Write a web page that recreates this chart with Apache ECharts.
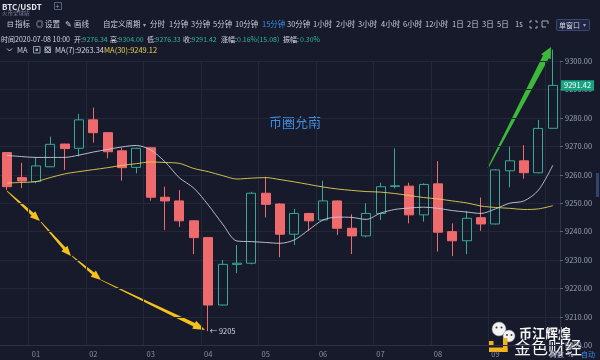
<!DOCTYPE html>
<html>
<head>
<meta charset="utf-8">
<script src="https://cdn.jsdelivr.net/npm/echarts@6/dist/echarts.min.js"></script>
<style>
html,body{margin:0;padding:0;background:#161a2b;}
#c{width:600px;height:360px;}
</style>
</head>
<body>
<div id="c"></div>
<script>
// ---- data ----
const times = ['00:30','00:45','01:00','01:15','01:30','01:45','02:00','02:15','02:30','02:45','03:00','03:15','03:30','03:45','04:00','04:15','04:30','04:45','05:00','05:15','05:30','05:45','06:00','06:15','06:30','06:45','07:00','07:15','07:30','07:45','08:00','08:15','08:30','08:45','09:00','09:15','09:30','09:45','10:00'];
const opens  = [9267.8,9259.0,9257.6,9262.8,9270.8,9269.3,9279.3,9274.8,9268.4,9262.6,9269.5,9252.1,9250.8,9243.8,9237.9,9214.2,9228.5,9228.9,9253.5,9249.7,9239.1,9246.4,9244.1,9250.8,9241.2,9238.5,9246.4,9255.9,9256.0,9245.9,9256.8,9240.0,9236.8,9244.9,9242.7,9261.4,9264.9,9260.7,9276.34];
const highs  = [9268.0,9264.2,9266.1,9273.4,9270.9,9281.4,9283.6,9275.0,9269.4,9269.5,9269.7,9255.8,9254.6,9244.0,9238.0,9230.0,9235.3,9254.0,9259.3,9250.0,9248.0,9246.6,9257.9,9251.0,9246.1,9250.0,9257.2,9269.3,9257.2,9257.0,9264.8,9242.9,9247.3,9252.0,9262.0,9269.9,9270.4,9279.3,9304.0];
const lows   = [9254.6,9255.3,9257.0,9262.7,9261.7,9266.4,9271.3,9265.8,9257.9,9260.5,9250.9,9240.6,9241.7,9232.1,9205.0,9214.0,9225.4,9228.5,9245.0,9231.0,9235.3,9240.3,9244.0,9238.8,9232.1,9238.0,9244.1,9255.2,9242.9,9243.5,9233.0,9231.4,9232.1,9240.3,9242.5,9255.6,9258.6,9260.5,9276.33];
const closes = [9255.8,9257.8,9263.1,9270.7,9269.2,9279.3,9274.8,9268.1,9262.5,9269.3,9252.1,9250.8,9243.8,9237.9,9214.2,9228.5,9228.9,9253.5,9249.6,9239.1,9246.4,9243.8,9250.8,9241.2,9238.5,9246.4,9255.8,9256.1,9245.9,9256.6,9239.8,9236.8,9244.7,9242.7,9261.7,9264.9,9260.7,9276.3,9291.42];
const ma7  = [9266.8,9266.4,9266.1,9266.1,9266.1,9266.9,9268.0,9268.9,9269.8,9270.3,9268.7,9264.5,9258.9,9255.3,9249.4,9242.7,9236.7,9236.5,9236.2,9235.9,9237.1,9240.6,9244.1,9245.1,9245.0,9244.3,9246.5,9247.8,9248.3,9248.6,9248.2,9247.4,9246.9,9246.4,9248.0,9250.0,9250.8,9254.6,9263.34];
const ma30 = [9257.1,9257.3,9257.6,9259.0,9260.3,9261.1,9261.8,9262.5,9263.3,9263.9,9264.5,9264.3,9264.0,9262.2,9261.1,9259.7,9258.5,9258.8,9259.0,9258.3,9257.5,9256.6,9255.7,9255.0,9254.5,9254.1,9253.9,9253.4,9252.7,9252.0,9251.5,9250.8,9250.1,9249.0,9248.5,9248.2,9247.8,9248.0,9249.12];
const yTicks = {min: 9200, max: 9300, step: 10};

// ---- build ----
const kData = times.map((t, i) => [opens[i], closes[i], lows[i], highs[i]]);
const hiIdx = highs.indexOf(Math.max(...highs));
const loIdx = lows.indexOf(Math.min(...lows));
const lastClose = closes[closes.length - 1];

const CJK = '"Noto Sans CJK SC", "Noto Sans", sans-serif';
const TXT = '#c9cdd9';
const GRN = '#2fb597';
const BLUE = '#3d8ee8';

function T(x, y, text, fill, size, extra) {
  return {
    type: 'text', x: x, y: y, silent: true,
    style: Object.assign({text: text, fill: fill || TXT, fontSize: size || 7.5, fontFamily: CJK, verticalAlign: 'middle', align: 'left'}, extra || {})
  };
}
function arrow(x1, y1, x2, y2, w1, w2, hl, hw, fill) {
  const dx = x2 - x1, dy = y2 - y1, L = Math.hypot(dx, dy);
  const ux = dx / L, uy = dy / L, px = -uy, py = ux;
  const bx = x2 - ux * hl, by = y2 - uy * hl;
  return {
    type: 'polygon', silent: true,
    shape: {points: [
      [x1 + px * w1 / 2, y1 + py * w1 / 2],
      [bx + px * w2 / 2, by + py * w2 / 2],
      [bx + px * hw / 2, by + py * hw / 2],
      [x2, y2],
      [bx - px * hw / 2, by - py * hw / 2],
      [bx - px * w2 / 2, by - py * w2 / 2],
      [x1 - px * w1 / 2, y1 - py * w1 / 2]
    ]},
    style: {fill: fill}
  };
}

const graphics = [
  // row 1
  T(2, 6.5, 'BTC/USDT', '#e6e8f0', 8, {fontWeight: 'bold'}),
  T(2, 13, '火币全球站', '#7d849a', 5.5),
  {type: 'rect', silent: true, shape: {x: 54.5, y: 2.5, width: 7, height: 7}, style: {fill: 'none', stroke: '#59607a', lineWidth: 1}},
  T(55.6, 6, '+', '#9aa0b4', 7),
  // row 2
  T(7, 24.5, '⊟', TXT, 7.5),
  T(15, 24.5, '指标'),
  T(36, 24.5, '◎', TXT, 7.5),
  T(45, 24.5, '设置'),
  T(65, 24.5, '✎', TXT, 7.5),
  T(74, 24.5, '画线'),
  T(103, 24.5, '自定义周期'),
  T(143, 24.5, '▾', '#9aa0b4', 6),
  T(150, 24.5, '分时'),
  T(169, 24.5, '1分钟'),
  T(191, 24.5, '3分钟'),
  T(213, 24.5, '5分钟'),
  T(235, 24.5, '10分钟'),
  T(262, 24.5, '15分钟', BLUE),
  T(287, 24.5, '30分钟'),
  T(313, 24.5, '1小时'),
  T(336, 24.5, '2小时'),
  T(358, 24.5, '3小时'),
  T(381, 24.5, '4小时'),
  T(403, 24.5, '6小时'),
  T(425, 24.5, '12小时'),
  T(452, 24.5, '1日'),
  T(467, 24.5, '2日'),
  T(482, 24.5, '3日'),
  T(497, 24.5, '5日'),
  T(515, 24.5, '1s'),
  {type: 'polyline', silent: true, shape: {points: [[530,23],[530,21],[532,21]]}, style: {stroke: TXT, lineWidth: 0.8, fill: 'none'}},
  {type: 'polyline', silent: true, shape: {points: [[535,21],[537,21],[537,23]]}, style: {stroke: TXT, lineWidth: 0.8, fill: 'none'}},
  {type: 'polyline', silent: true, shape: {points: [[530,26],[530,28],[532,28]]}, style: {stroke: TXT, lineWidth: 0.8, fill: 'none'}},
  {type: 'polyline', silent: true, shape: {points: [[535,28],[537,28],[537,26]]}, style: {stroke: TXT, lineWidth: 0.8, fill: 'none'}},
  {type: 'polyline', silent: true, shape: {points: [[546,27],[542,27],[542,21],[548,21],[548,24]]}, style: {stroke: TXT, lineWidth: 0.8, fill: 'none'}},
  {type: 'rect', silent: true, shape: {x: 556.5, y: 19.5, width: 33, height: 11, r: 1}, style: {fill: '#1f2642', stroke: '#3a4670', lineWidth: 1}},
  T(559, 25, '单窗口', '#d6d9e6', 7),
  T(583, 25, '▾', '#9aa0b4', 5.5),
  // row 3
  T(1, 39.5, '时间2020-07-08 10:00', '#d6d9e4', 7),
  T(74, 39.5, '开:', '#d6d9e4', 7), T(82.5, 39.5, '9276.34', GRN, 7),
  T(110, 39.5, '高:', '#d6d9e4', 7), T(118.5, 39.5, '9304.00', GRN, 7),
  T(147, 39.5, '低:', '#d6d9e4', 7), T(155.5, 39.5, '9276.33', GRN, 7),
  T(183, 39.5, '收:', '#d6d9e4', 7), T(191.5, 39.5, '9291.42', GRN, 7),
  T(221, 39.5, '涨幅:', '#d6d9e4', 7), T(237, 39.5, '0.16%(15.08)', GRN, 7),
  T(283, 39.5, '振幅:', '#d6d9e4', 7), T(300, 39.5, '0.30%', GRN, 7),
  // row 4 (MA legend)
  {type: 'polyline', silent: true, shape: {points: [[7,48.5],[9.5,51],[12,48.5]]}, style: {stroke: TXT, lineWidth: 0.9, fill: 'none'}},
  T(17, 50, 'MA', TXT),
  {type: 'rect', silent: true, shape: {x: 33.5, y: 46.5, width: 6.5, height: 6.5}, style: {fill: 'none', stroke: '#9aa0b4', lineWidth: 0.9}},
  {type: 'rect', silent: true, shape: {x: 35.5, y: 48.5, width: 2.5, height: 2.5}, style: {fill: '#9aa0b4'}},
  {type: 'rect', silent: true, shape: {x: 44.5, y: 46.5, width: 6.5, height: 6.5}, style: {fill: '#9aa0b4'}},
  {type: 'line', silent: true, shape: {x1: 45.5, y1: 47.5, x2: 50, y2: 52}, style: {stroke: '#161a2b', lineWidth: 1}},
  {type: 'line', silent: true, shape: {x1: 50, y1: 47.5, x2: 45.5, y2: 52}, style: {stroke: '#161a2b', lineWidth: 1}},
  T(55, 50, 'MA(7):' + ma7[ma7.length - 1].toFixed(2), '#d8dae8'),
  T(104, 50, 'MA(30):' + ma30[ma30.length - 1].toFixed(2), '#e8d44d'),
  // watermark text
  T(269, 122.5, '币圈允南', '#3f8de0', 13),
  // yellow arrows
  arrow(7, 191, 40, 221, 0.8, 3.2, 10, 8, '#f5c21b'),
  arrow(41, 222, 71, 256, 0.8, 3.2, 10, 8, '#f5c21b'),
  arrow(72, 256, 101, 280, 0.8, 3.2, 10, 8, '#f5c21b'),
  arrow(101, 280, 205, 330, 0.8, 3.8, 12, 9, '#f5c21b'),
  // green arrow
  arrow(488, 168, 551, 47, 1, 6.5, 11, 11, '#3cb83a'),
  // scrollbar
  {type: 'rect', silent: true, shape: {x: 596, y: 173, width: 3, height: 24}, style: {fill: '#34426e'}},
  // bottom-right logo watermark
  {type: 'circle', silent: true, shape: {cx: 499, cy: 329, r: 7}, style: {fill: '#f2f2f2', stroke: '#888', lineWidth: 0.5}},
  {type: 'circle', silent: true, shape: {cx: 509, cy: 336, r: 6}, style: {fill: '#f2f2f2', stroke: '#888', lineWidth: 0.5}},
  {type: 'circle', silent: true, shape: {cx: 496.5, cy: 327.5, r: 1}, style: {fill: '#333'}},
  {type: 'circle', silent: true, shape: {cx: 501.5, cy: 327.5, r: 1}, style: {fill: '#333'}},
  {type: 'circle', silent: true, shape: {cx: 507, cy: 335, r: 0.9}, style: {fill: '#333'}},
  {type: 'circle', silent: true, shape: {cx: 511.5, cy: 335, r: 0.9}, style: {fill: '#333'}},
  {type: 'rect', silent: true, shape: {x: 489, y: 341, width: 4.5, height: 4.5}, style: {fill: '#f2b418'}},
  {type: 'rect', silent: true, shape: {x: 503, y: 338, width: 4.5, height: 14}, style: {fill: '#f2b418'}},
  {type: 'rect', silent: true, shape: {x: 489, y: 347.5, width: 18.5, height: 4.5}, style: {fill: '#f2b418'}},
  T(519, 333.5, '币江辉煌', '#f4f4f4', 13, {fontWeight: 'bold'}),
  T(514, 347.5, '金色财经', '#f4f4f4', 17),
  T(550, 354, '对数', '#b8bccb', 7),
  T(567, 354, '%', '#b8bccb', 7),
  T(581, 354, '自动', BLUE, 7)
];

const option = {
  backgroundColor: '#161a2b',
  animation: false,
  grid: {left: -1.6, width: 561.6, top: 61, height: 284.4},
  xAxis: {
    type: 'category', data: times, boundaryGap: true,
    axisLine: {show: true, lineStyle: {color: '#2a3045'}},
    axisTick: {show: false},
    axisLabel: {
      color: '#8b90a3', fontSize: 7.5, fontFamily: CJK, margin: 5,
      interval: (i, v) => v.endsWith(':00'),
      formatter: v => v.slice(0, 2)
    },
    splitLine: {show: true, interval: (i, v) => v.endsWith(':00'), lineStyle: {color: '#232839', width: 1}}
  },
  yAxis: {
    type: 'value', position: 'right', scale: true,
    min: yTicks.min, max: yTicks.max, interval: yTicks.step,
    axisLine: {show: true, lineStyle: {color: '#2e3449'}},
    axisTick: {show: true, length: 3, lineStyle: {color: '#5d6378'}},
    axisLabel: {color: '#9aa0b2', fontSize: 7.5, fontFamily: CJK, margin: 5, formatter: v => v.toFixed(2)},
    splitLine: {show: true, lineStyle: {color: '#232839', width: 1}}
  },
  series: [
    {
      type: 'candlestick', data: kData, barWidth: 9.5, clip: false,
      itemStyle: {color: 'rgba(0,0,0,0)', color0: '#ef6a6d', borderColor: '#35a995', borderColor0: '#ef6a6d', borderWidth: 1},
      markPoint: {
        symbol: 'circle', symbolSize: 1, itemStyle: {color: 'rgba(0,0,0,0)'},
        label: {color: '#d6d9e4', fontSize: 7.5, fontFamily: CJK},
        data: [
          {coord: [hiIdx, highs[hiIdx]], label: {position: 'left', distance: 2, formatter: highs[hiIdx].toFixed(0) + ' —'}},
          {coord: [loIdx, lows[loIdx]], label: {position: 'right', distance: 1, formatter: '← ' + lows[loIdx].toFixed(0)}}
        ]
      },
      markLine: {
        silent: true, symbol: 'none',
        lineStyle: {color: 'rgba(0,0,0,0)'},
        label: {position: 'end', distance: 1, formatter: lastClose.toFixed(2), color: '#ffffff', backgroundColor: '#17a37f', padding: [2, 3, 1, 3], fontSize: 7.5, fontFamily: CJK},
        data: [{yAxis: lastClose}]
      }
    },
    {type: 'line', data: ma7, symbol: 'none', smooth: 0.3, lineStyle: {color: '#c6c9df', width: 0.9}, z: 3},
    {type: 'line', data: ma30, symbol: 'none', smooth: 0.3, lineStyle: {color: '#e3cf52', width: 0.9}, z: 3}
  ],
  graphic: graphics
};
const chart = echarts.init(document.getElementById('c'), null, {renderer: 'canvas'});
chart.setOption(option);
</script>
</body>
</html>
